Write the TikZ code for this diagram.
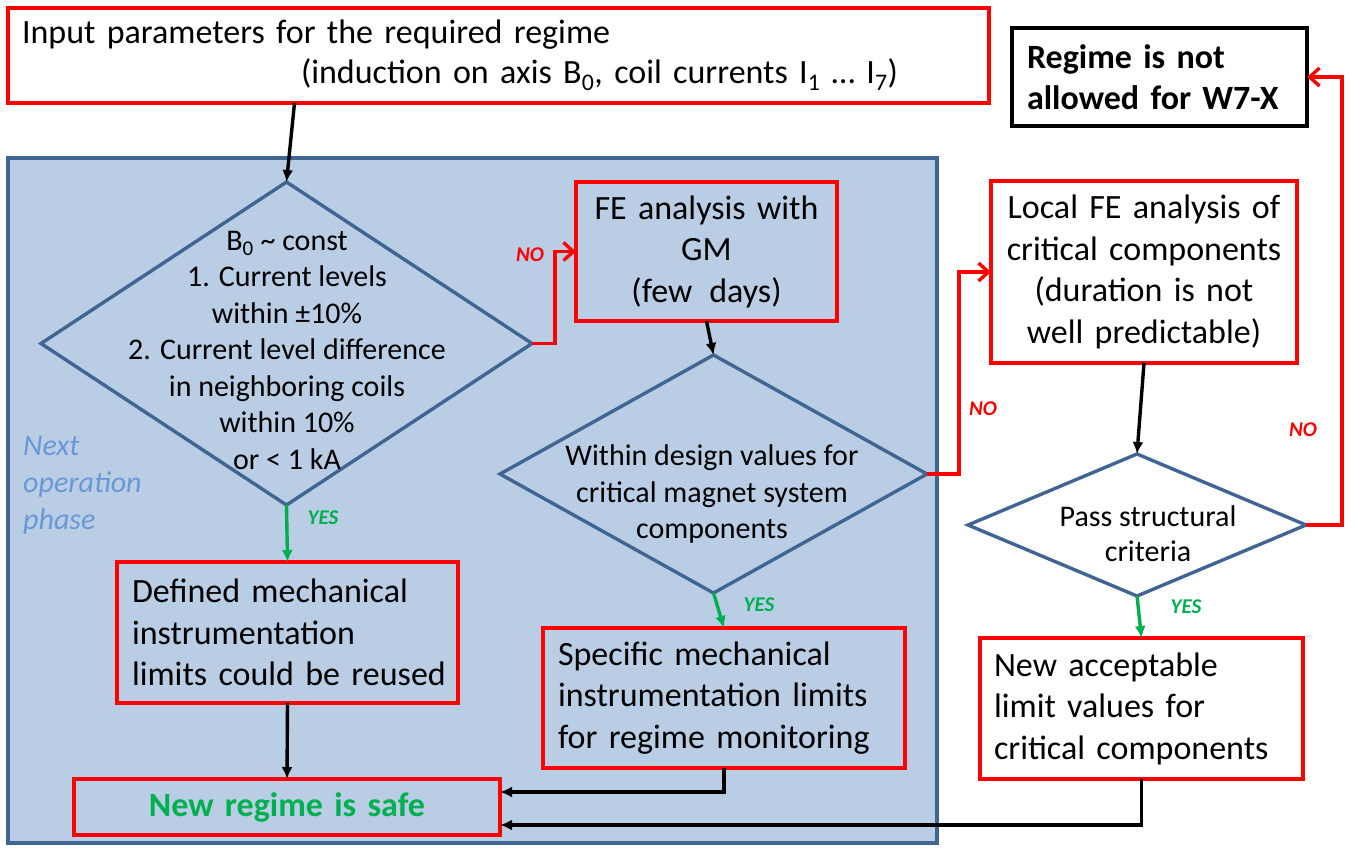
\documentclass[tikz,border=0pt]{standalone}
\usepackage{fontspec}
\setmainfont{Carlito}
\usetikzlibrary{shapes.geometric,arrows.meta}
\definecolor{panelfill}{RGB}{185,205,229}
\definecolor{paneldraw}{RGB}{65,101,146}
\definecolor{diadraw}{RGB}{65,101,146}
\definecolor{okgreen}{RGB}{0,176,80}
\definecolor{phaseblue}{RGB}{106,152,214}
\definecolor{redline}{RGB}{255,0,0}
\newcommand\oneline[1]{\mbox{#1}}
\begin{document}
\begin{tikzpicture}[x=1pt,y=-1pt,
 box/.style={draw=redline, line width=4pt, inner xsep=15pt, inner ysep=0pt, outer sep=0pt, font=\fontsize{34}{41.5}\selectfont},
 blackbox/.style={box, draw=black},
 dia/.style={shape=diamond, draw=diadraw, line width=3.4pt, inner sep=0pt, outer sep=0pt},
 diatext/.style={font=\fontsize{30}{36.5}\selectfont, align=center, inner sep=0pt},
 lbl/.style={font=\fontsize{21}{24}\selectfont\bfseries\itshape, inner sep=0pt},
 nolbl/.style={lbl, text=redline},
 yeslbl/.style={lbl, text=okgreen},
 blackarrow/.style={draw=black, line width=3.4pt, -{Latex[length=12pt,width=11pt]}},
 greenarrow/.style={draw=okgreen, line width=3.4pt, -{Latex[length=12pt,width=11pt]}},
 redarrow/.style={draw=redline, line width=3.4pt, -{Straight Barb[length=10pt,width=18pt]}},
]
\useasboundingbox (0,0) rectangle (1354,847);
\node[draw=paneldraw, fill=panelfill, line width=3.4pt, minimum width=929pt, minimum height=685pt, inner sep=0pt, outer sep=0pt] (panel) at (472.5,500.5) {};

% boxes
\node[box, text width=953pt, align=left, minimum height=95pt, inner xsep=14pt, font=\fontsize{34}{40}\selectfont] (inp) at (498.5,55.5)
  {\oneline{Input parameters for the required regime}\\\oneline{\hspace*{279pt}(induction on axis B\textsubscript{0}, coil currents I\textsubscript{1} … I\textsubscript{7})}};
\node[blackbox, text width=265pt, align=left, minimum height=98pt, font=\fontsize{34}{41}\selectfont\bfseries] (regime) at (1159.5,77)
  {\oneline{Regime is not}\\\oneline{allowed for W7-X}};
\node[box, text width=251pt, inner xsep=5pt, align=center, minimum height=139pt] (fe) at (706.5,251.5)
  {\oneline{FE analysis with}\\\oneline{GM}\\\oneline{(few\, days)}};
\node[box, fill=white, text width=296pt, inner xsep=5pt, align=center, minimum height=182pt] (local) at (1144,272)
  {\oneline{Local FE analysis of}\\\oneline{critical components}\\\oneline{(duration is not}\\\oneline{well predictable)}};
\node[box, text width=311pt, align=left, minimum height=141pt] (defined) at (287.5,632.5)
  {\oneline{Defined mechanical}\\\oneline{instrumentation}\\\oneline{limits could be reused}};
\node[box, text width=332pt, align=left, minimum height=140pt] (specific) at (724,698)
  {\oneline{Specific mechanical}\\\oneline{instrumentation limits}\\\oneline{for regime monitoring}};
\node[box, fill=white, text width=295pt, inner xsep=14pt, align=left, minimum height=141pt] (newacc) at (1141.5,708.5)
  {\oneline{New acceptable}\\\oneline{limit values for}\\\oneline{critical components}};
\node[box, text width=416pt, inner xsep=5pt, align=center, minimum height=56pt, font=\fontsize{34}{41}\selectfont\bfseries, text=okgreen] (safe) at (287,807)
  {New regime is safe};

% diamonds
\node[dia, minimum width=491pt, minimum height=323pt] (d1) at (286.5,343.5) {};
\node[dia, minimum width=427pt, minimum height=238pt] (d2) at (713.5,474) {};
\node[dia, fill=white, minimum width=338pt, minimum height=142pt] (d3) at (1137,525) {};

\node[diatext] (t1) at (287,350) {B\textsubscript{0} \textasciitilde{} const\\1. Current levels\\within ±10\%\\2. Current level difference\\in neighboring coils\\within 10\%\\or < 1 kA};
\node[diatext] (t2) at (712,494) {Within design values for\\critical magnet system\\components};
\node[diatext, font=\fontsize{30}{35}\selectfont] (t3) at (1148,534) {Pass structural\\criteria};

\node[font=\fontsize{30}{37}\selectfont\itshape, text=phaseblue, align=left, anchor=west, inner sep=0pt] (phase) at (23,485) {Next\\operation\\phase};

% labels
\node[nolbl] (no1) at (530,255) {NO};
\node[nolbl] (no2) at (983,409) {NO};
\node[nolbl] (no3) at (1303,430) {NO};
\node[yeslbl] (yes1) at (323,518) {YES};
\node[yeslbl] (yes2) at (759,605) {YES};
\node[yeslbl] (yes3) at (1186,607) {YES};

% connectors
\draw[blackarrow] ([xshift=-204pt]inp.south) -- (d1.north);
\draw[redarrow] (d1.east) -- ++(23,0) |- (fe.west);
\draw[blackarrow] (fe.south) -- (d2.north);
\draw[redarrow] (d2.east) -- ++(32,0) |- (local.west);
\draw[blackarrow] (local.south) -- (d3.north);
\draw[redarrow] (d3.east) -- ++(36,0) |- (regime.east);
\draw[greenarrow] (d1.south) -- (defined.north);
\draw[blackarrow] (defined.south) -- (safe.north);
\draw[greenarrow] (d2.south) -- (specific.north);
\draw[blackarrow] (specific.south) |- ([yshift=15pt]safe.east);
\draw[greenarrow] (d3.south) -- (newacc.north);
\draw[blackarrow] (newacc.south) |- ([yshift=-18pt]safe.east);
\end{tikzpicture}
\end{document}
